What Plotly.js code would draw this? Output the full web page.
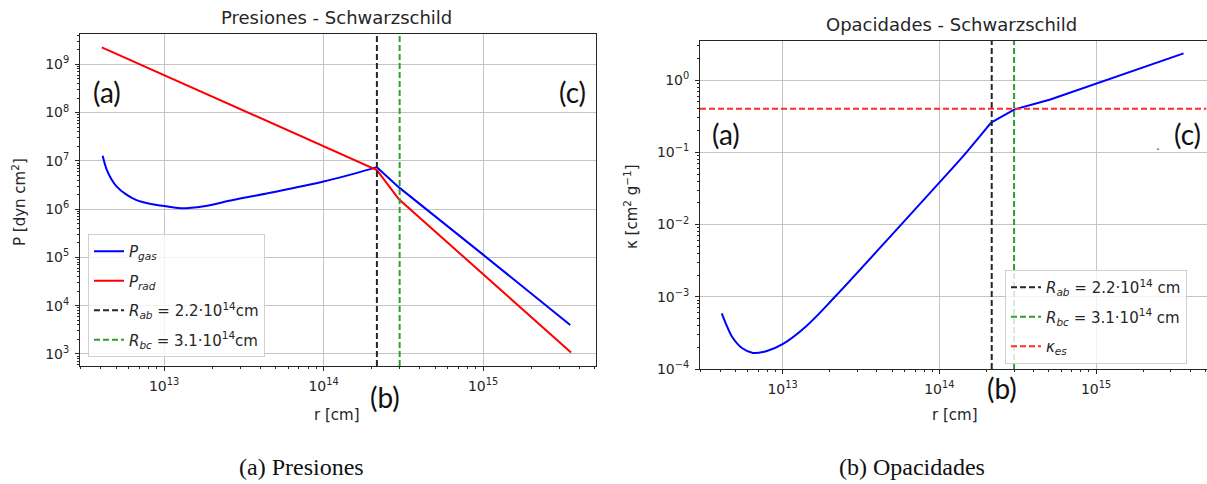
<!DOCTYPE html>
<html>
<head>
<meta charset="utf-8">
<script src="https://cdn.plot.ly/plotly-3.0.1.min.js"></script>
<style>html,body{margin:0;padding:0;background:#fff;overflow:hidden}</style>
</head>
<body>
<div id="chart" style="width:1207px;height:484px"></div>
<script>
// ---- Data ----
// Pressures (left panel)
const r_gas = [4.12e12, 4.37e12, 4.68e12, 5.05e12, 5.75e12, 6.67e12, 8.13e12, 1.0e13, 1.27e13, 1.78e13, 2.71e13, 5.01e13, 1.0e14, 1.58e14, 2.16e14, 2.97e14, 1.0e15, 3.52e15];
const P_gas = [1.28e7, 6.61e6, 4.17e6, 2.92e6, 2.04e6, 1.55e6, 1.29e6, 1.16e6, 1.04e6, 1.15e6, 1.55e6, 2.29e6, 3.72e6, 5.50e6, 7.40e6, 2.82e6, 1.14e5, 3.98e3];
const r_rad = [4.07e12, 1.0e14, 2.16e14, 2.97e14, 3.56e15];
const P_rad = [2.25e9, 1.97e7, 6.45e6, 1.60e6, 1.07e3];
// Opacity (right panel)
const r_kap = [4.09e12, 4.42e12, 4.76e12, 5.50e12, 6.47e12, 7.94e12, 1.0e13, 1.41e13, 2.16e13, 5.71e13, 1.0e14, 1.49e14, 2.14e14, 3.02e14, 5.11e14, 1.0e15, 3.62e15];
const kappa = [5.89e-4, 3.89e-4, 2.79e-4, 1.95e-4, 1.67e-4, 1.78e-4, 2.21e-4, 3.89e-4, 1.0e-3, 1.0e-2, 3.80e-2, 0.10, 0.257, 0.393, 0.54, 0.90, 2.35];
const kappa_es = 0.4;
// Region boundaries
const R_ab = 2.16e14;
const R_bc = 3.0e14;
// Labels
const titles = ["Presiones - Schwarzschild", "Opacidades - Schwarzschild"];
const captions = ["(a) Presiones", "(b) Opacidades"];
const legendNames = {
  gas: "<i>P</i><sub><i>gas</i></sub>",
  rad: "<i>P</i><sub><i>rad</i></sub>",
  ab1: "<i>R</i><sub><i>ab</i></sub> = 2.2·10<sup>14</sup>cm",
  bc1: "<i>R</i><sub><i>bc</i></sub> = 3.1·10<sup>14</sup>cm",
  ab2: "<i>R</i><sub><i>ab</i></sub> = 2.2·10<sup>14</sup> cm",
  bc2: "<i>R</i><sub><i>bc</i></sub> = 3.1·10<sup>14</sup> cm",
  es: "<i>κ</i><sub><i>es</i></sub>"
};

// ---- Axis setup ----
const W = 1207, H = 484;
const xr = [12.473, 15.705];
const yr1 = [2.75, 9.638];
const yr2 = [-4.0, 0.546];

function decadeTicks(lo, hi) {
  const v = [], t = [];
  for (let n = Math.ceil(lo); n <= Math.floor(hi); n++) {
    v.push(Math.pow(10, n));
    t.push("10<sup>" + (n < 0 ? "−" + (-n) : n) + "</sup>");
  }
  return {v, t};
}
function minorTicks(lo, hi) {
  const v = [];
  for (let n = Math.floor(lo); n <= Math.ceil(hi); n++) {
    for (let k = 2; k <= 9; k++) {
      const val = k * Math.pow(10, n);
      const l = Math.log10(val);
      if (l >= lo && l <= hi) v.push(val);
    }
  }
  return v;
}
const tickFont = {family: "DejaVu Sans", size: 14, color: "#262626"};
function logAxis(range, domain, anchor, mirror) {
  const d = decadeTicks(range[0], range[1]);
  return {
    type: "log", range: range, domain: domain, anchor: anchor,
    tickmode: "array", tickvals: d.v, ticktext: d.t,
    ticks: "outside", ticklen: 4, tickwidth: 1, tickcolor: "#262626",
    showline: true, linecolor: "#262626", linewidth: 1, mirror: mirror,
    showgrid: true, gridcolor: "#c4c4c4", gridwidth: 1,
    zeroline: false, tickfont: tickFont, ticklabelstandoff: 3,
    minor: {tickmode: "array", tickvals: minorTicks(range[0], range[1]), ticks: "outside", ticklen: 2, tickcolor: "#262626", showgrid: false}
  };
}

// split a curve at a boundary radius: smooth part inside, straight part outside
function part(xs, ys, lo, hi) {
  const x = [], y = [];
  xs.forEach((v, i) => { if (v >= lo && v <= hi) { x.push(v); y.push(ys[i]); } });
  return {x, y};
}
const gasIn = part(r_gas, P_gas, 0, R_ab * 1.01);
const gasOut = part(r_gas, P_gas, R_ab * 0.99, Infinity);
const kapIn = part(r_kap, kappa, 0, R_ab * 1.01);
const kapOut = part(r_kap, kappa, R_ab * 0.98, Infinity);

const dashPat = "6px,3px";
const traces = [
  {x: gasIn.x, y: gasIn.y, xaxis: "x", yaxis: "y", mode: "lines", name: legendNames.gas,
   line: {color: "#0000ff", width: 2, shape: "spline", smoothing: 1}, legend: "legend", legendgroup: "g1"},
  {x: gasOut.x, y: gasOut.y, xaxis: "x", yaxis: "y", mode: "lines", showlegend: false,
   line: {color: "#0000ff", width: 2}, legendgroup: "g1"},
  {x: r_rad, y: P_rad, xaxis: "x", yaxis: "y", mode: "lines", name: legendNames.rad,
   line: {color: "#ff0000", width: 2}, legend: "legend", legendgroup: "g2"},
  {x: [R_ab, R_ab], y: [Math.pow(10, yr1[0]), Math.pow(10, yr1[1])], xaxis: "x", yaxis: "y", mode: "lines",
   name: legendNames.ab1, line: {color: "#262626", width: 2, dash: dashPat}, legend: "legend", legendgroup: "g3"},
  {x: [R_bc, R_bc], y: [Math.pow(10, yr1[0]), Math.pow(10, yr1[1])], xaxis: "x", yaxis: "y", mode: "lines",
   name: legendNames.bc1, line: {color: "#2ca02c", width: 2, dash: dashPat}, legend: "legend", legendgroup: "g4"},

  {x: kapIn.x, y: kapIn.y, xaxis: "x2", yaxis: "y2", mode: "lines", showlegend: false,
   line: {color: "#0000ff", width: 2, shape: "spline", smoothing: 1}},
  {x: kapOut.x, y: kapOut.y, xaxis: "x2", yaxis: "y2", mode: "lines", showlegend: false,
   line: {color: "#0000ff", width: 2}},
  {x: [R_ab, R_ab], y: [Math.pow(10, yr2[0]), Math.pow(10, yr2[1])], xaxis: "x2", yaxis: "y2", mode: "lines",
   name: legendNames.ab2, line: {color: "#262626", width: 2, dash: dashPat}, legend: "legend2", legendgroup: "h1"},
  {x: [R_bc, R_bc], y: [Math.pow(10, yr2[0]), Math.pow(10, yr2[1])], xaxis: "x2", yaxis: "y2", mode: "lines",
   name: legendNames.bc2, line: {color: "#2ca02c", width: 2, dash: dashPat}, legend: "legend2", legendgroup: "h2"},
  {x: [Math.pow(10, xr[0]), Math.pow(10, xr[1])], y: [kappa_es, kappa_es], xaxis: "x2", yaxis: "y2", mode: "lines",
   name: legendNames.es, line: {color: "#ff2a2a", width: 2, dash: dashPat}, legend: "legend2", legendgroup: "h3"}
];

function P(px, py) { return {x: px / W, y: 1 - py / H}; }
function ann(text, px, py, font, extra) {
  const p = P(px, py);
  return Object.assign({text: text, x: p.x, y: p.y, xref: "paper", yref: "paper",
    xanchor: "center", yanchor: "middle", showarrow: false, font: font}, extra || {});
}
const tFont = {family: "DejaVu Sans", size: 18, color: "#262626"};
const lFont = {family: "DejaVu Sans", size: 15, color: "#262626"};
const bigFont = {family: "Lato", size: 28, color: "#111"};
const capFont = {family: "Liberation Serif", size: 24, color: "#111"};

const annotations = [
  ann(titles[0], 336, 17, tFont),
  ann(titles[1], 951, 25, tFont),
  ann("r [cm]", 337, 415, lFont),
  ann("r [cm]", 955, 415, lFont),
  ann("P [dyn cm<sup>2</sup>]", 19, 202, lFont, {textangle: -90}),
  ann("κ [cm<sup>2</sup> g<sup>−1</sup>]", 631, 207, lFont, {textangle: -90}),
  ann("(a)", 107, 92, bigFont),
  ann("(c)", 572, 92, bigFont),
  ann("(b)", 385, 397, bigFont),
  ann("(a)", 726, 134, bigFont),
  ann("(c)", 1187, 134, bigFont),
  ann("(b)", 1002, 388, bigFont),
  ann(".", 1158, 146, {family: "DejaVu Sans", size: 12, color: "#333"}),
  ann(captions[0], 301, 467, capFont),
  ann(captions[1], 912, 467, capFont)
];

const legendCommon = {
  bgcolor: "rgba(255,255,255,0.8)", bordercolor: "#d0d0d0", borderwidth: 1,
  font: {family: "DejaVu Sans", size: 15, color: "#262626"},
  xref: "paper", yref: "paper", xanchor: "left", yanchor: "top",
  traceorder: "grouped", tracegroupgap: 7
};

const layout = {
  width: W, height: H,
  margin: {l: 0, r: 0, t: 0, b: 0},
  paper_bgcolor: "#fff", plot_bgcolor: "#fff",
  xaxis: logAxis(xr, [80 / W, 595.5 / W], "y", true),
  yaxis: logAxis(yr1, [1 - 366 / H, 1 - 33.5 / H], "x", true),
  xaxis2: logAxis(xr, [700 / W, 1206.5 / W], "y2", true),
  yaxis2: logAxis(yr2, [1 - 369 / H, 1 - 40.7 / H], "x2", false),
  legend: Object.assign({}, legendCommon, {x: 88 / W, y: 1 - 234 / H}),
  legend2: Object.assign({}, legendCommon, {x: 1005 / W, y: 1 - 270 / H}),
  annotations: annotations
};

Plotly.newPlot("chart", traces, layout, {displayModeBar: false, staticPlot: true});
</script>
</body>
</html>
